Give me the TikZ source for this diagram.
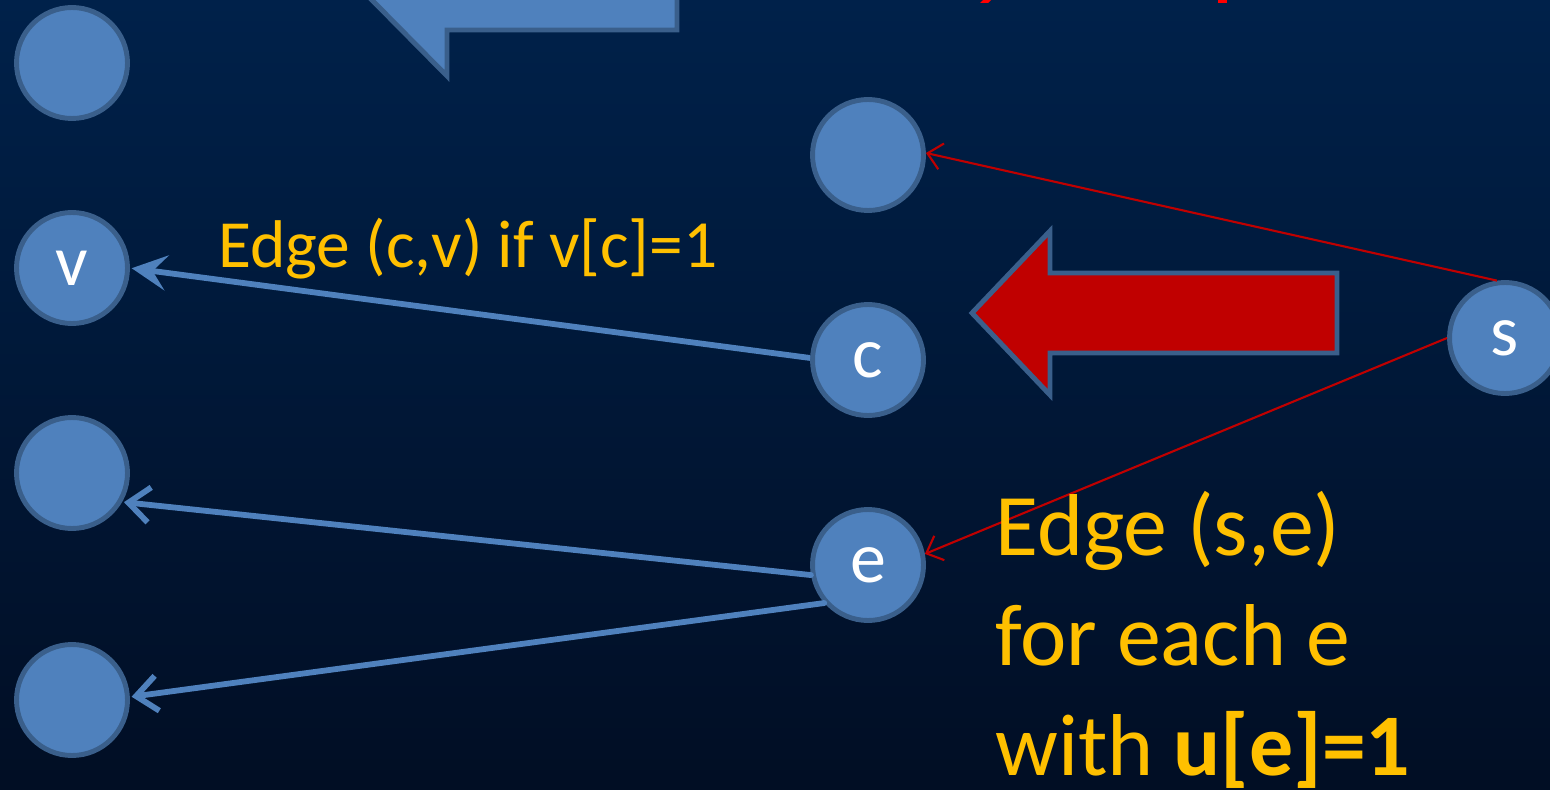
\documentclass[tikz,border=0pt]{standalone}
\usepackage{fontspec}
\setmainfont{Carlito}
\usetikzlibrary{arrows.meta}
\definecolor{bgtop}{HTML}{00214A}
\definecolor{bgbot}{HTML}{010E24}
\definecolor{nodefill}{HTML}{4F81BD}
\definecolor{nodeline}{HTML}{3A5F8B}
\definecolor{redarr}{HTML}{C00000}
\definecolor{gold}{HTML}{FFC000}
\tikzset{
  vert/.style={circle, fill=nodefill, draw=nodeline, line width=2.8pt, minimum size=2.22cm, inner sep=0pt, text=white, font=\fontsize{41}{48}\selectfont},
  bluedge/.style={draw=nodefill, line width=3.3pt, shorten >=1pt},
  bluebarb/.style={-{Straight Barb[length=12pt,width=20pt,line width=3.3pt]}, line cap=round},
  rededge/.style={draw=redarr, line width=1.2pt, -{Straight Barb[length=8pt,width=15pt,line width=1.2pt]}},
  blockarrow/.style={draw=nodeline, line width=2.8pt, line join=miter},
}
\begin{document}
\begin{tikzpicture}[x=0.02cm,y=-0.02cm]
\useasboundingbox (0,0) rectangle (1550,790);
\shade[top color=bgtop, bottom color=bgbot] (0,0) rectangle (1550,790);
\clip (0,0) rectangle (1550,790);

% top blue block arrow (cut off)
\draw[blockarrow, fill=nodefill] (367,-5) -- (447,-88) -- (447,-52) -- (677,-52) -- (677,30) -- (447,30) -- (447,76) -- cycle;

% red text fragments cut off at top
\fill[red] (980,3) -- (983,0) -- (991,0) -- (988,3) -- cycle;
\fill[red] (1218,0) rectangle (1227,3);

% red block arrow
\draw[blockarrow, fill=redarr] (972,313) -- (1050,231) -- (1050,273) -- (1337,273) -- (1337,353) -- (1050,353) -- (1050,395) -- cycle;

% vertices
\node[vert] (n1) at (72,63) {};
\node[vert] (v) at (72,268) {v};
\node[vert] (n3) at (72,473) {};
\node[vert] (n4) at (72,700) {};
\node[vert] (t) at (868,155) {};
\node[vert] (c) at (868,360) {c};
\node[vert] (e) at (868,565) {e};
\node[vert] (s) at (1505,338) {s};

% blue edges
\draw[bluedge, -{Stealth[length=20pt,width=20pt,inset=8pt]}] (c.178) -- (v.0);
\draw[bluedge, bluebarb] (e.190) -- (n3.330);
\draw[bluedge, bluebarb] (e.221) -- (n4.3);

% red edges
\draw[rededge] (s.98) -- (t.2);
\draw[rededge] (s.180) -- (e.11);

% labels
\node[anchor=base west, text=gold, font=\fontsize{38.4}{45}\selectfont, inner sep=0pt] (lab1) at (218,268) {Edge (c,v) if v[c]=1};
\node[anchor=base west, text=gold, font=\fontsize{50}{62.4}\selectfont, inner sep=0pt, align=left] (lab2) at (995,775) {Edge (s,e)\\for each e\\with \textbf{u[e]=1}};
\end{tikzpicture}
\end{document}
